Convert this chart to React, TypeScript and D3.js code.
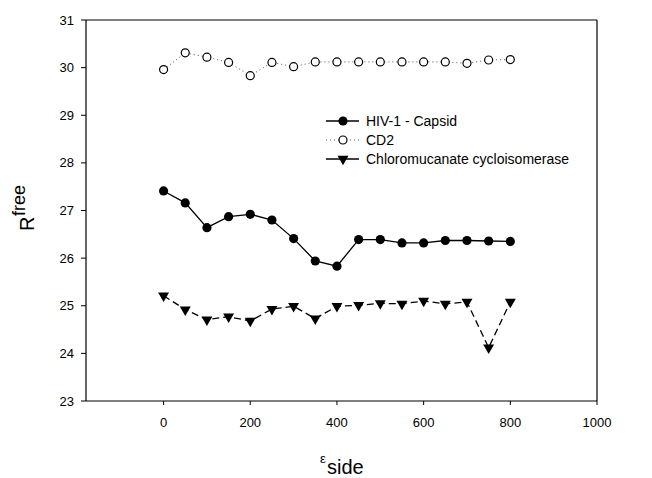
import React from "react";
import * as d3 from "d3";

const xValues = [0, 50, 100, 150, 200, 250, 300, 350, 400, 450, 500, 550, 600, 650, 700, 750, 800];
const hivCapsid = [27.41, 27.16, 26.64, 26.87, 26.92, 26.8, 26.41, 25.94, 25.83, 26.39, 26.39, 26.32, 26.32, 26.37, 26.37, 26.36, 26.35];
const cd2 = [29.96, 30.31, 30.22, 30.11, 29.83, 30.11, 30.02, 30.12, 30.12, 30.12, 30.12, 30.12, 30.12, 30.12, 30.09, 30.16, 30.17];
const chloro = [25.21, 24.92, 24.71, 24.77, 24.68, 24.93, 24.99, 24.73, 24.99, 25.01, 25.05, 25.04, 25.1, 25.04, 25.08, 24.12, 25.08];
const seriesNames = ["HIV-1 - Capsid", "CD2", "Chloromucanate cycloisomerase"];
const xTicks = [0, 200, 400, 600, 800, 1000];
const yTicks = [23, 24, 25, 26, 27, 28, 29, 30, 31];

const W = 652;
const H = 478;
const left = 86;
const right = 597;
const top = 20;
const bottom = 401;
const FONT = "'Liberation Sans', Arial, Helvetica, sans-serif";

export default function App() {
  const x = d3.scaleLinear().domain([-179, 1000]).range([left, right]);
  const y = d3.scaleLinear().domain([23, 31]).range([bottom, top]);
  const line = d3
    .line<number>()
    .x((_, i) => x(xValues[i]))
    .y((d) => y(d));
  const tri = d3.symbol().type(d3.symbolTriangle).size(52)();

  const legendY = [121, 140, 159];
  const lx0 = 326;
  const lx1 = 359;
  const lm = 343;

  return (
    <svg
      width={W}
      height={H}
      style={{ position: "absolute", left: 0, top: 0, background: "#fff" }}
      fontFamily={FONT}
    >
      <rect x={0} y={0} width={W} height={H} fill="#fff" />
      {/* frame */}
      <line x1={left} x2={right} y1={top} y2={top} stroke="#000" strokeWidth={1.2} />
      <line x1={right} x2={right} y1={top} y2={bottom} stroke="#000" strokeWidth={1.2} />
      <line x1={left} x2={right} y1={bottom} y2={bottom} stroke="#000" strokeWidth={1.2} />
      <line x1={left} x2={left} y1={top} y2={bottom} stroke="#000" strokeWidth={1.2} />

      {/* y ticks */}
      {yTicks.map((t) => (
        <g key={"y" + t}>
          <line x1={left - 5} x2={left} y1={y(t)} y2={y(t)} stroke="#000" strokeWidth={1} />
          <text x={left - 12} y={y(t) + 4.5} textAnchor="end" fontSize={13} fill="#000">
            {t}
          </text>
        </g>
      ))}
      {/* x ticks */}
      {xTicks.map((t) => (
        <g key={"x" + t}>
          <line x1={x(t)} x2={x(t)} y1={bottom} y2={bottom + 4} stroke="#000" strokeWidth={1} />
          <text x={x(t)} y={427} textAnchor="middle" fontSize={13} fill="#000">
            {t}
          </text>
        </g>
      ))}

      {/* axis titles */}
      <text x={320} y={463} fontSize={13} fill="#000">
        ε
      </text>
      <text x={327} y={474} fontSize={20} fill="#000">
        side
      </text>
      <g transform="translate(34,231) rotate(-90)">
        <text x={0} y={0} fontSize={20} fill="#000">
          R
        </text>
        <text x={15} y={-9} fontSize={18} fill="#000">
          free
        </text>
      </g>

      {/* CD2 dotted */}
      <path d={line(cd2) || ""} fill="none" stroke="#555" strokeWidth={1} strokeDasharray="1,3" />
      {/* HIV solid */}
      <path d={line(hivCapsid) || ""} fill="none" stroke="#000" strokeWidth={1.3} />
      {/* Chloro dashed */}
      <path d={line(chloro) || ""} fill="none" stroke="#000" strokeWidth={1.3} strokeDasharray="7,4" />

      {cd2.map((v, i) => (
        <circle key={"c" + i} cx={x(xValues[i])} cy={y(v)} r={4} fill="#fff" stroke="#000" strokeWidth={1.2} />
      ))}
      {hivCapsid.map((v, i) => (
        <circle key={"h" + i} cx={x(xValues[i])} cy={y(v)} r={4.6} fill="#000" />
      ))}
      {chloro.map((v, i) => (
        <path
          key={"t" + i}
          d={tri || ""}
          transform={`translate(${x(xValues[i])},${y(v)}) rotate(180)`}
          fill="#000"
        />
      ))}

      {/* legend */}
      <line x1={lx0} x2={lx1} y1={legendY[0]} y2={legendY[0]} stroke="#000" strokeWidth={1.3} />
      <circle cx={lm} cy={legendY[0]} r={4.6} fill="#000" />
      <line x1={lx0} x2={lx1} y1={legendY[1]} y2={legendY[1]} stroke="#555" strokeWidth={1} strokeDasharray="1,3" />
      <circle cx={lm} cy={legendY[1]} r={4} fill="#fff" stroke="#000" strokeWidth={1.2} />
      <line x1={lx0} x2={lx1} y1={legendY[2]} y2={legendY[2]} stroke="#000" strokeWidth={1.3} />
      <path d={tri || ""} transform={`translate(${lm},${legendY[2]}) rotate(180)`} fill="#000" />
      {seriesNames.map((n, i) => (
        <text key={n} x={366} y={legendY[i] + 5} fontSize={14} fill="#000">
          {n}
        </text>
      ))}
    </svg>
  );
}
